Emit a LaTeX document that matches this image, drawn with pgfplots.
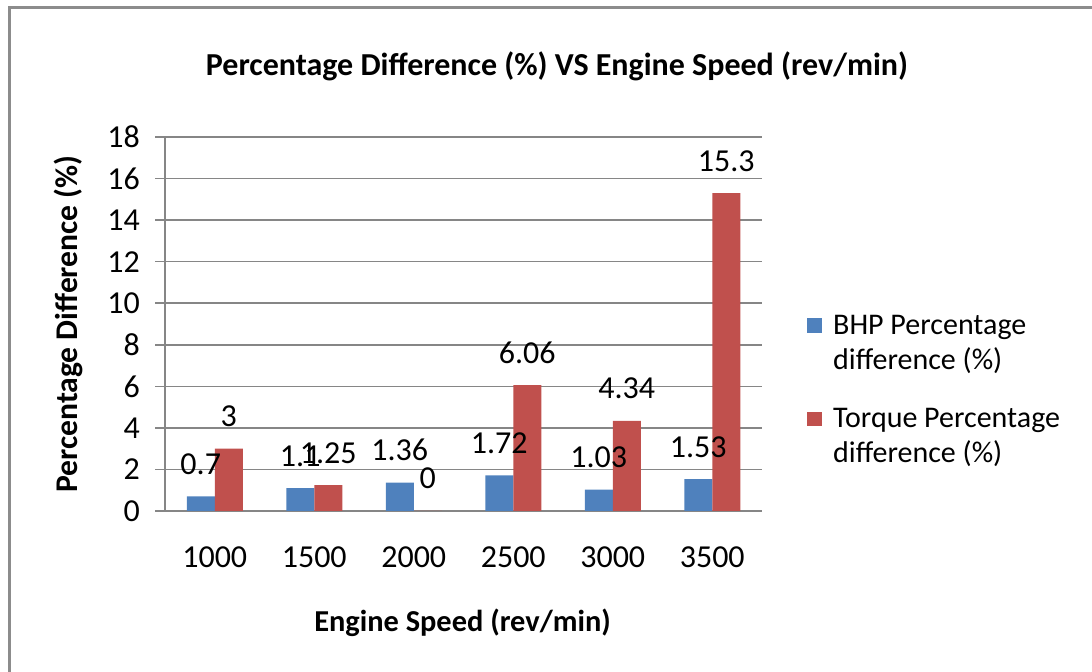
\documentclass[border=0pt]{standalone}
\usepackage{pgfplots}
\pgfplotsset{compat=1.18}
\usepackage{fontspec}
\setmainfont{Carlito}
\definecolor{bhp}{RGB}{79,129,189}
\definecolor{tq}{RGB}{192,80,77}
\definecolor{gridc}{RGB}{134,134,134}
\definecolor{framec}{RGB}{140,140,140}
\begin{document}
\begin{tikzpicture}[x=1pt,y=1pt]
\path[use as bounding box] (0,0) rectangle (546,336);
\draw[framec, line width=1.5pt] (4.5,-2) -- (4.5,332) -- (548,332);
\node[font=\fontsize{16}{19}\selectfont\bfseries] at (278.5,303) {Percentage Difference (\%) VS Engine Speed (rev/min)};
\node[font=\fontsize{15.8}{19}\selectfont\bfseries, rotate=90] at (34,174) {Percentage Difference (\%)};
\node[font=\fontsize{15.2}{18}\selectfont\bfseries] at (231.25,24.5) {Engine Speed (rev/min)};
\begin{axis}[
  at={(82.5pt,80.5pt)}, anchor=south west,
  scale only axis, width=298.5pt, height=187pt,
  ybar=0pt, bar width=14pt,
  xmin=-0.5, xmax=5.5, ymin=0, ymax=18,
  xtick={0,...,5}, xticklabels={1000,1500,2000,2500,3000,3500},
  ytick={0,2,...,18},
  axis lines*=left,
  axis line style={gridc, line width=0.8pt},
  ymajorgrids, major grid style={gridc, line width=0.8pt},
  tick align=outside, major tick length=5pt,
  major x tick style={draw=none},
  major y tick style={gridc, line width=0.8pt},
  /pgf/number format/assume math mode=true,
  ticklabel style={font=\fontsize{16}{19}\selectfont},
  yticklabel style={xshift=-4pt},
  xticklabel style={yshift=-9.5pt},
  nodes near coords,
  nodes near coords style={font=\fontsize{16}{19}\selectfont, anchor=base, yshift=11pt, text=black},
  legend style={at={(1.075,0.535)}, anchor=north west, draw=none, fill=none,
    font=\fontsize{15}{17.5}\selectfont, inner sep=0pt, row sep=14pt,
    cells={align=left, anchor=west}},
  legend image code/.code={\fill[#1, draw=none] (0pt,5.4pt) rectangle (7.4pt,12.8pt); \path (11pt,0pt);},
]
\addplot[fill=bhp, draw=none] coordinates {(0,0.7) (1,1.1) (2,1.36) (3,1.72) (4,1.03) (5,1.53)};
\addplot[fill=tq, draw=none] coordinates {(0,3) (1,1.25) (2,0) (3,6.06) (4,4.34) (5,15.3)};
\legend{BHP Percentage\\difference (\%), Torque Percentage\\difference (\%)}
\end{axis}
\end{tikzpicture}
\end{document}
